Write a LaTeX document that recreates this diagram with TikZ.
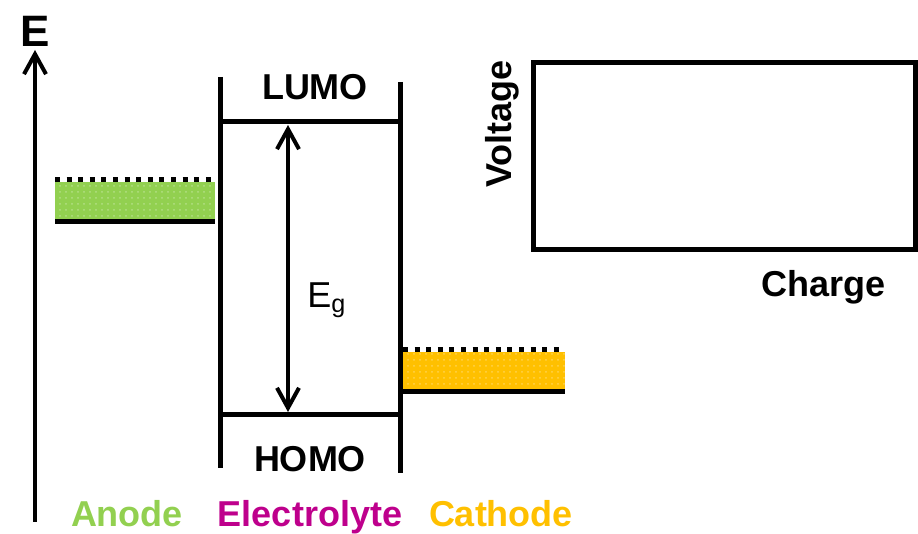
\documentclass[tikz,border=0pt]{standalone}
\usepackage{fontspec}
\setmainfont{Liberation Sans}
\usetikzlibrary{arrows.meta,patterns,calc,positioning}
\definecolor{anodegreen}{RGB}{146,208,80}
\definecolor{cathodeyellow}{RGB}{255,192,0}
\definecolor{electrolytemag}{RGB}{190,0,140}

\begin{document}
\begin{tikzpicture}[x=0.5pt,y=-0.5pt,line join=miter,line cap=butt,
  level/.style={line width=2.5pt},
  dotlevel/.style={line width=2.5pt,dash pattern=on 2.5pt off 3.3pt},
  barb/.style={line width=2pt,-{Straight Barb[length=10pt,width=11pt]}},
  lbl/.style={font=\fontsize{18}{20}\selectfont\bfseries,inner sep=0pt}]
\useasboundingbox (0,0) rectangle (918,534);
% energy axis
\coordinate (A0) at (35,522);
\coordinate (A1) at (35,50);
\draw[barb] (A0) -- (A1);
\node[lbl,font=\fontsize{22}{24}\selectfont\bfseries] (E) at (35,31) {E};
% electrolyte window
\coordinate (L1) at (220,77);
\coordinate (L2) at (220,468);
\coordinate (R1) at (400,82);
\coordinate (R2) at (400,473);
\coordinate (LU1) at (220,122);
\coordinate (LU2) at (400,122);
\coordinate (HO1) at (220,415);
\coordinate (HO2) at (400,415);
\draw[level] (L1)--(L2) (R1)--(R2) (LU1)--(LU2) (HO1)--(HO2);
\coordinate (G1) at (288,125);
\coordinate (G2) at (288,412);
\draw[barb,{Straight Barb[length=10pt,width=11pt]}-{Straight Barb[length=10pt,width=11pt]}] (G1) -- (G2);
\node[lbl] (lumo) at (315,87) {LUMO};
\node[lbl] (homo) at (310,459) {HOMO};
\node[font=\fontsize{18}{20}\selectfont,inner sep=0pt] (Eg) at (327,300) {E\textsubscript{g}};
% electrode bands
\foreach \n/\x/\y/\w/\c in {an/55/180/160/anodegreen,ca/403/350/162/cathodeyellow}{
  \coordinate (\n1) at (\x,\y);
  \coordinate (\n2) at ($(\n1)+(\w,0)$);
  \coordinate (\n3) at ($(\n1)+(0,42)$);
  \coordinate (\n4) at ($(\n2)+(0,42)$);
  \fill[\c] ($(\n1)+(0,2)$) rectangle ($(\n4)+(0,-3)$);
  \fill[pattern=dots,pattern color=white,opacity=0.3] ($(\n1)+(0,2)$) rectangle ($(\n4)+(0,-3)$);
  \draw[dotlevel] (\n1) -- (\n2);
  \draw[level] (\n3) -- (\n4);
}
% voltage-charge frame
\node[draw,line width=2.5pt,minimum width=191pt,minimum height=93.5pt,inner sep=0pt] (plot) at (724,156.5) {};
\node[lbl,rotate=90] (volt) at (502,124) {Voltage};
\node[lbl] (charge) at (824,287) {Charge};
% electrode names
\node[lbl,anchor=base,text=anodegreen] (anode) at (127,527) {Anode};
\node[lbl,anchor=base,text=electrolytemag] (elec) at (310,527) {Electrolyte};
\node[lbl,anchor=base,text=cathodeyellow] (cathode) at (501,527) {Cathode};
\end{tikzpicture}
\end{document}
